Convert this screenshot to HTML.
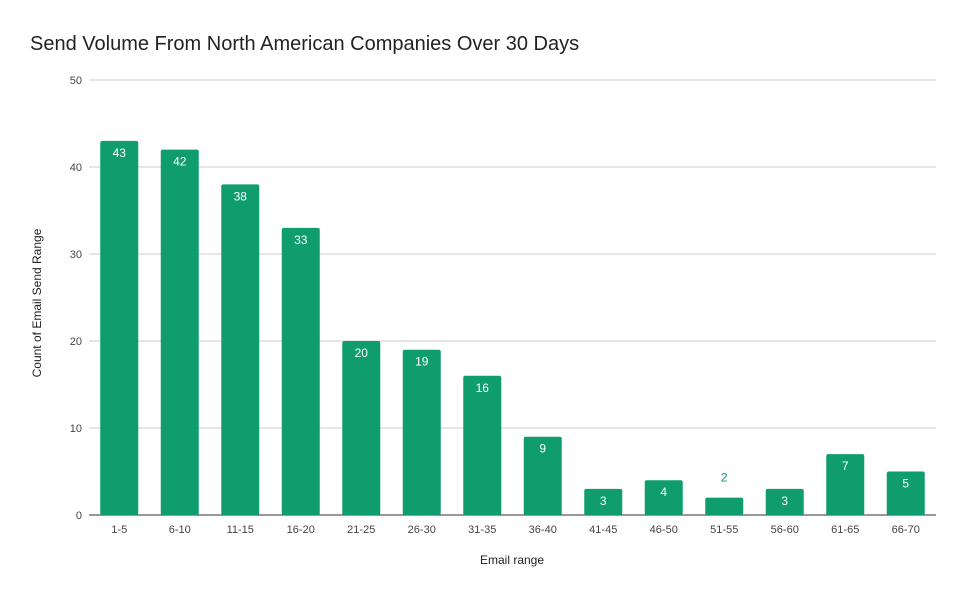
<!DOCTYPE html>
<html><head><meta charset="utf-8"><style>
body{margin:0;background:#fff;font-family:"Liberation Sans",sans-serif}
</style></head><body>
<svg id="chart" width="966" height="597" xmlns="http://www.w3.org/2000/svg" style="display:block">
<rect width="966" height="597" fill="#fff"/>
<text x="30" y="50" font-size="20" fill="#222">Send Volume From North American Companies Over 30 Days</text>
<text transform="translate(41,303) rotate(-90)" text-anchor="middle" font-size="12" fill="#222">Count of Email Send Range</text>
<text x="512" y="564" text-anchor="middle" font-size="12" fill="#222">Email range</text>
<g id="grid"></g><g id="bars"></g><g id="xl"></g>
</svg>
<script>
const categories=["1-5","6-10","11-15","16-20","21-25","26-30","31-35","36-40","41-45","46-50","51-55","56-60","61-65","66-70"];
const values=[43,42,38,33,20,19,16,9,3,4,2,3,7,5];
const yTicks=[0,10,20,30,40,50];
const NS="http://www.w3.org/2000/svg";
const x0=89,x1=936,yBase=515,yTop=80,yMax=50;
const step=(x1-x0)/categories.length;
const y=v=>yBase-(yBase-yTop)*v/yMax;
const xc=i=>x0+step*(i+0.5);
function mk(t,a,p){const e=document.createElementNS(NS,t);for(const k in a)e.setAttribute(k,a[k]);p.appendChild(e);return e;}
const grid=document.getElementById('grid'),bars=document.getElementById('bars'),xl=document.getElementById('xl');
yTicks.forEach(t=>{
 const l=mk('line',{x1:x0,x2:x1,y1:y(t),y2:y(t),stroke:t===0?'#333':'#ccc','stroke-width':1},grid);
 
 
 const tx=mk('text',{x:82,y:y(t)+4,'text-anchor':'end','font-size':11,fill:'#444'},grid);
 tx.textContent=t;
 
 
});
categories.forEach((c,i)=>{
 const v=values[i],bw=38;
 const r=mk('rect',{x:xc(i)-bw/2,y:y(v),width:bw,height:yBase-y(v),fill:'#0f9d6e',rx:2},bars);
 
 
 const inside=(yBase-y(v))>25;
 const lt=mk('text',{x:xc(i),y:inside?y(v)+16:y(v)-16,'text-anchor':'middle','font-size':12,fill:inside?'#fff':'#0f9d6e'},bars);
 lt.textContent=v;
 
 
 const xt=mk('text',{x:xc(i),y:533,'text-anchor':'middle','font-size':11,fill:'#444'},xl);
 xt.textContent=c;
 
 
});
</script>
</body></html>
